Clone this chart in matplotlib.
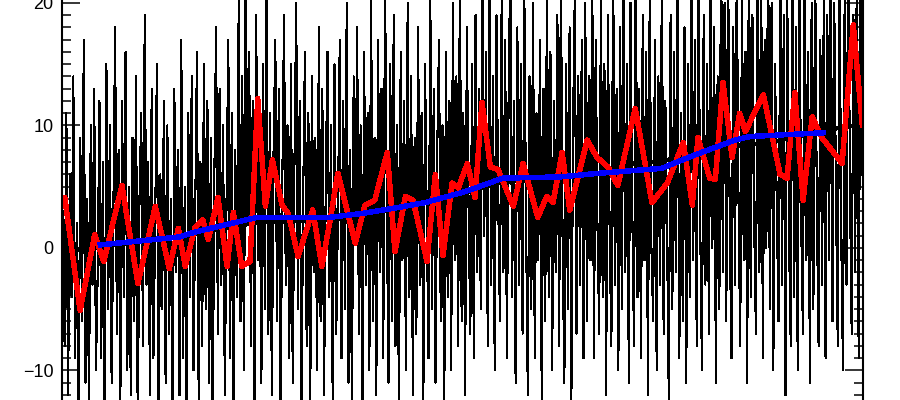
import numpy as np
import matplotlib
matplotlib.use('Agg')
import matplotlib.pyplot as plt
from matplotlib.ticker import MultipleLocator

# noisy quarterly series, 1895-2010
noisy = [
    3, -8, 11, -12, 6, -4, 14, -9, 2, -15, 9, -6, 17, -11, 4, -13, 10, -3, 13, -10,
    -2, 12, -9, 7, -14, 15, -5, 10, -11, 3, 18, -7, 8, -13, 12, -4, 16, -10, 5, -12,
    9, -6, 14, -15, 4, 11, -8, 19, -3, 7, -12, 13, -9, 2, 15, -14, 6, -5, 12, -11,
    10, -7, 4, -16, 13, -2, 8, -12, 17, -9, 5, -14, 11, -4, 14, -10, 3, 16, -13, 7,
    -8, 15, -5, 12, -11, 9, -15, 6, 18, -7, 13, -3, 10, -12, 4, 17, -9, 11, -14, 8,
    -4, 21, -6, 14, -10, 24, 2, 16, -8, 12, -13, 19, -1, 9, -11, 15, -5, 22, -7, 11,
    -12, 8, 17, -6, 13, -14, 5, 19, -3, 10, -9, 15, -11, 7, 20, -5, 12, -13, 4, 16,
    -8, 11, -15, 14, -2, 9, -10, 18, -6, 13, -12, 6, 16, -4, 10, -14, 15, -7, 3, 17,
    -9, 12, -5, 20, -11, 8, -13, 14, 1, 18, -7, 10, -15, 16, -3, 11, -10, 21, -6, 9,
    -12, 17, -2, 13, -9, 22, 4, -11, 15, -6, 19, -8, 10, -14, 16, -1, 12, -10, 20, -4,
    14, -12, 9, -7, 18, -3, 11, -13, 15, 2, -9, 21, -5, 13, -11, 8, 17, -6, 10, -14,
    16, -4, 12, -10, 20, -1, 14, -8, 23, -6, 11, -12, 18, 3, -7, 15, -9, 19, -2, 13,
    -5, 22, 1, 16, -8, 25, -3, 14, -10, 19, 4, -6, 21, -2, 17, -9, 13, 24, -4, 12,
    -11, 18, -3, 15, -7, 21, 2, -12, 14, -5, 20, -9, 11, -1, 17, -13, 13, -6, 22, -4,
    16, -10, 12, -2, 19, -8, 23, 0, -11, 15, -5, 18, -13, 10, 21, -7, 14, -3, 17, -9,
    20, -6, 14, -1, 23, -9, 17, 2, -7, 21, -4, 15, -12, 19, 1, -8, 24, -3, 13, -10,
    18, -5, 22, -2, 15, -11, 20, 3, -8, 25, -4, 13, -9, 19, -1, 16, -12, 21, 0, -6,
    17, -10, 14, -3, 23, -7, 12, 1, -13, 19, -5, 16, -2, 22, -9, 11, -6, 18, -11, 15,
    -4, 21, -1, 17, -8, 24, 2, -10, 19, -3, 15, -7, 23, 0, 18, -11, 14, -5, 26, -2,
    20, -6, 25, 1, -9, 18, -3, 23, 4, -8, 21, -1, 16, -11, 27, -4, 19, 2, -7, 22,
    -2, 24, -9, 17, 0, 26, -5, 20, -10, 15, 3, -6, 23, -3, 19, -12, 21, 1, -8, 25,
    -4, 18, -10, 22, 2, -7, 25, -1, 16, -11, 20, -5, 24, 3, -8, 17, -3, 21, -9, 19,
    -1, 26, -6, 20, 4, -8, 24, 1, -10, 22, -3, 27, 5, -7, 19, -2, 25, -9, 21, 6,
]
t_noisy = 1895.125 + np.arange(len(noisy)) / 4.0

# red curve (vertices)
red_t = [1895.4, 1897.6, 1899.7, 1901.0, 1903.6, 1905.9, 1908.4, 1910.4, 1911.7, 1912.7,
         1914.1, 1915.2, 1916.0, 1917.4, 1918.7, 1919.6, 1920.8, 1922.0, 1923.1, 1924.2,
         1925.2, 1926.6, 1927.5, 1928.9, 1931.0, 1932.3, 1933.5, 1934.6, 1937.1, 1938.5,
         1939.9, 1941.7, 1942.8, 1944.3, 1945.4, 1947.4, 1948.6, 1949.7, 1951.0, 1951.9,
         1953.2, 1954.3, 1955.3, 1956.5, 1957.6, 1959.8, 1961.2, 1963.3, 1964.6, 1965.5,
         1966.8, 1967.9, 1970.4, 1971.8, 1973.4, 1974.8, 1977.3, 1979.7, 1981.9, 1984.2,
         1985.5, 1986.3, 1988.0, 1988.8, 1989.9, 1991.2, 1992.3, 1993.1, 1995.7, 1998.1,
         1999.1, 2000.2, 2001.4, 2002.7, 2004.1, 2007.0, 2008.6, 2009.9]
red_v = [4.1, -5.1, 1.1, -1.1, 5.1, -2.9, 3.4, -1.7, 1.6, -1.5,
         1.7, 2.3, 0.7, 4.1, -1.5, 2.9, -1.5, -1.1, 12.2, 3.4,
         7.2, 3.5, 2.8, -0.7, 3.1, -1.5, 2.3, 6.1, 0.4, 3.5,
         3.9, 7.8, -0.3, 4.2, 3.9, -1.1, 6.0, -0.6, 5.3, 4.9,
         6.9, 4.1, 11.9, 6.6, 6.4, 3.4, 6.9, 2.5, 4.2, 3.7,
         7.8, 3.1, 8.8, 7.4, 6.6, 5.1, 11.4, 3.7, 5.3, 8.6,
         3.5, 9.0, 5.7, 5.6, 13.5, 7.4, 11.0, 9.5, 12.5, 6.0,
         5.7, 12.7, 3.9, 10.7, 9.0, 6.9, 18.2, 10.0]

# blue smooth curve
blue_t = [1900.5, 1911.9, 1914.1, 1923.0, 1933.5, 1938.5, 1943.2, 1947.1, 1952.9,
          1958.3, 1966.5, 1972.2, 1981.1, 1985.9, 1991.6, 1993.8, 2004.3]
blue_v = [0.25, 0.9, 1.3, 2.5, 2.5, 2.85, 3.3, 3.7, 4.6,
          5.7, 5.8, 6.1, 6.5, 7.6, 8.8, 9.1, 9.4]

# black smooth trend
trend_t = [1895.0, 1900.5, 1911.9, 1923.0, 1933.5, 1943.5, 1952.9, 1958.3, 1966.5,
           1972.2, 1977.0, 1981.3, 1989.5, 1996.7, 2004.3, 2009.9]
trend_v = [-0.3, 0.1, 0.9, 2.1, 2.3, 3.2, 4.5, 5.4, 5.7,
           6.1, 6.9, 7.1, 8.2, 8.6, 9.6, 10.1]

fig = plt.figure(figsize=(9, 4), dpi=100)
ax = fig.add_axes([62 / 900, 0, 801 / 900, 1])

ax.plot(t_noisy, noisy, color='black', lw=0.8, antialiased=False)
ax.plot(trend_t, trend_v, color='black', lw=2.5, antialiased=False)
ax.plot(red_t, red_v, color='#ff0000', lw=3.2, antialiased=False)
ax.plot(blue_t, blue_v, color='#0000ff', lw=3.2, antialiased=False)

ax.set_xlim(1895, 2010)
ax.set_ylim(-12.41, 20.24)
ax.yaxis.set_major_locator(MultipleLocator(10))
ax.yaxis.set_minor_locator(MultipleLocator(1))
ax.tick_params(axis='y', which='both', direction='in', left=True, right=True,
               width=1.1, labelsize=13, pad=6)
ax.tick_params(axis='y', which='major', length=13)
ax.tick_params(axis='y', which='minor', length=6.5)
ax.tick_params(axis='x', which='both', bottom=False, top=False, labelbottom=False)
for lab in ax.get_yticklabels():
    lab.set_family('Liberation Sans')
for s in ('top', 'bottom'):
    ax.spines[s].set_visible(False)
for s in ('left', 'right'):
    ax.spines[s].set_linewidth(1.5)

fig.savefig('out.png', dpi=100)
